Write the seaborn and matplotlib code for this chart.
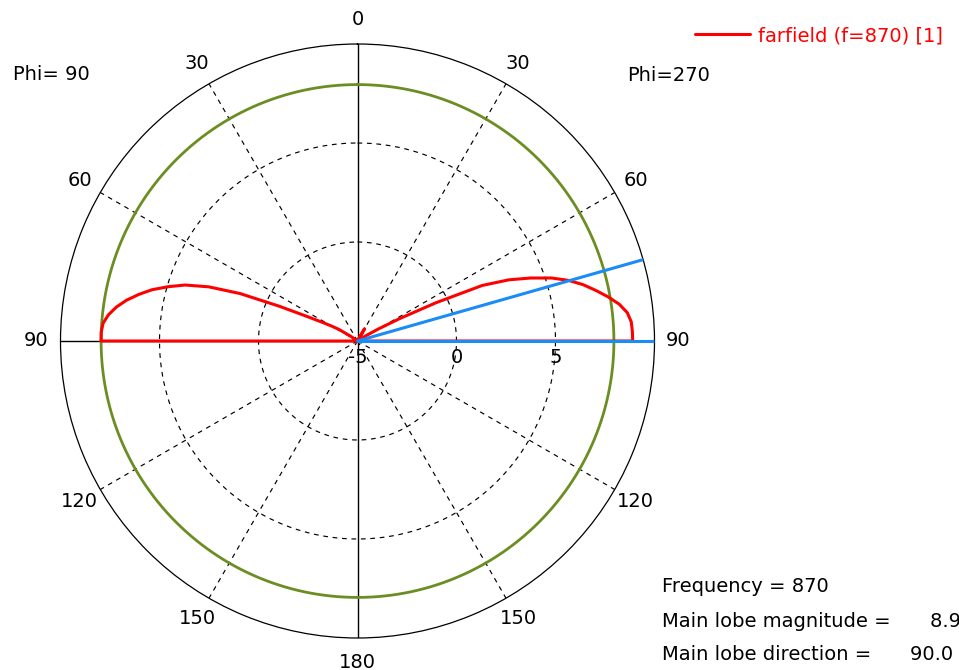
import numpy as np
import pandas as pd
import matplotlib
matplotlib.use("Agg")
import matplotlib.pyplot as plt
import matplotlib.transforms as mtransforms
from matplotlib.lines import Line2D
import seaborn as sns

# Farfield cut, gain in dB versus theta (deg), upper hemisphere
theta_upper = [0, 10, 20, 25, 30, 35, 40, 50, 55, 58, 60, 62, 64, 66, 68, 70,
               72, 74, 76, 78, 80, 82, 84, 86, 88, 90]
gain_phi90 = [-40.0, -40.0, -30.0, -25.0, -20.0, -16.0, -12.0, -8.0, -4.6, -3.9,
              -3.5, -3.0, -2.2, -0.7, 1.4, 3.0, 4.15, 4.95, 5.7, 6.3, 6.85, 7.3,
              7.65, 7.88, 7.95, 7.95]
gain_phi270 = [-40.0, -9.0, -6.0, -5.0, -4.3, -5.0, -8.0, -10.0, -6.0, -4.5,
               -3.8, -2.6, -0.6, 1.9, 3.25, 4.3, 5.3, 6.1, 6.75, 7.3, 7.85, 8.35,
               8.7, 8.86, 8.89, 8.9]
# Lower hemisphere lies below the plot floor
theta_lower = [92, 180]
gain_lower = [-40.0, -40.0]

frequency = 870
main_lobe_db = 8.9
main_lobe_dir = 90.0
beam_edge_dir = 74.1
side_lobe_db = 7.95

r_min, r_max = -5, 10
grid_db = [0, 5]
dashed_angles = [30, 60, 120, 150, 210, 240, 300, 330]
solid_angles = [0, 90, 180, 270]
angle_ticks = [0, 30, 60, 90, 120, 150, 180, 210, 240, 270, 300, 330]

RED = "#ff0000"
BLUE = "#1a8cf5"
GREEN = "#6b8e23"
FS = 14

sns.set_style("white")
plt.rcParams["font.family"] = ["DejaVu Sans"]
plt.rcParams["text.color"] = "black"

W, H = 959, 670
fig = plt.figure(figsize=(W / 100, H / 100), dpi=100)
fig.patch.set_facecolor("white")

cx, cy, R = 357.5, 341.0, 297.0
ax = fig.add_axes([(cx - R) / W, (H - cy - R) / H, 2 * R / W, 2 * R / H],
                  projection="polar")
ax.set_theta_zero_location("N")
ax.set_theta_direction(-1)
ax.set_ylim(r_min, r_max)
ax.set_xticks([])
ax.set_yticks([])
ax.grid(False)
ax.set_facecolor("white")
ax.spines["polar"].set_linewidth(0.9)
ax.spines["polar"].set_color("black")

circle = np.linspace(0, 2 * np.pi, 721)

# dashed level circles and radial lines
for g in grid_db:
    ax.plot(circle, np.full_like(circle, g), color="black", lw=0.85,
            ls=(0, (4, 4)), zorder=1)
for a in dashed_angles:
    ax.plot([np.deg2rad(a)] * 2, [r_min, r_max], color="black", lw=0.85,
            ls=(0, (4, 4)), zorder=1)
for a in solid_angles:
    ax.plot([np.deg2rad(a)] * 2, [r_min, r_max], color="black", lw=1.0, zorder=1)

# side lobe level circle
ax.plot(circle, np.full_like(circle, side_lobe_db), color=GREEN, lw=2.0, zorder=2)

# farfield trace: phi=90 on the left half, phi=270 on the right half
th_l = theta_upper + theta_lower
g_l = gain_phi90 + gain_lower
th_r = list(reversed(theta_upper + theta_lower))
g_r = list(reversed(gain_phi270 + gain_lower))
angles = [-t for t in th_l] + th_r
gains = g_l + g_r
df = pd.DataFrame({
    "angle": np.deg2rad(angles),
    "gain": np.clip(gains, r_min, None),
})
sns.lineplot(data=df, x="angle", y="gain", sort=False, estimator=None,
             color=RED, lw=2.2, ax=ax, zorder=3)
ax.set_xlabel("")
ax.set_ylabel("")

# main lobe direction and -3 dB beam edge
for a in [main_lobe_dir, beam_edge_dir]:
    ax.plot([np.deg2rad(a)] * 2, [r_min, r_max], color=BLUE, lw=2.2, zorder=4)

ax.set_ylim(r_min, r_max)

# theta labels (mirrored on the phi=90 half)
r_lab = r_min + 321.0 / R * (r_max - r_min)
for a in angle_ticks:
    lab = a if a <= 180 else 360 - a
    ax.text(np.deg2rad(a), r_lab, str(lab), ha="center", va="center",
            fontsize=FS, clip_on=False)

# level labels below the horizontal axis
off = mtransforms.offset_copy(ax.transData, fig=fig, x=0, y=-17, units="dots")
for g in [r_min] + grid_db:
    ax.text(np.pi / 2, g, f"{g:g}", transform=off, ha="center", va="center",
            fontsize=FS, clip_on=False)

# cut labels
fig.text(13 / W, 1 - 80 / H, "Phi= 90", fontsize=FS, va="baseline")
fig.text(627 / W, 1 - 81 / H, "Phi=270", fontsize=FS, va="baseline")

# legend
fig.add_artist(Line2D([695 / W, 750 / W], [1 - 34 / H] * 2, color=RED, lw=2.2,
                      transform=fig.transFigure))
fig.text(758 / W, 1 - 42 / H, f"farfield (f={frequency}) [1]", color=RED,
         fontsize=FS, va="baseline")

# summary
fig.text(662 / W, 1 - 592 / H, f"Frequency = {frequency}", fontsize=FS,
         va="baseline")
fig.text(662 / W, 1 - 627 / H, "Main lobe magnitude =", fontsize=FS,
         va="baseline")
fig.text(930 / W, 1 - 627 / H, f"{main_lobe_db:.1f} dB", fontsize=FS,
         va="baseline")
fig.text(662 / W, 1 - 660 / H, "Main lobe direction =", fontsize=FS,
         va="baseline")
fig.text(910 / W, 1 - 660 / H, f"{main_lobe_dir:.1f} deg.", fontsize=FS,
         va="baseline")

fig.savefig("out.png", dpi=100, facecolor="white")
